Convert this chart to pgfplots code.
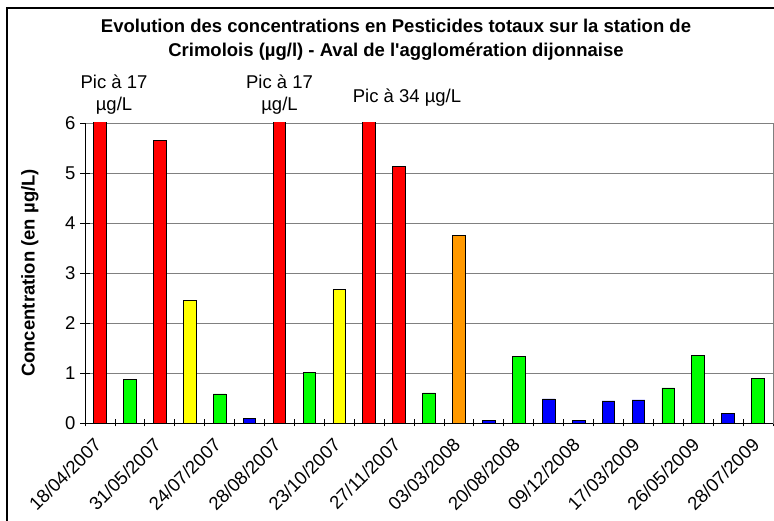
\documentclass[border=0pt]{standalone}
\usepackage{pgfplots}
\pgfplotsset{compat=1.18}
\usepackage{pgfplotstable}
\usepackage{fontspec}
\setmainfont{Liberation Sans}
\definecolor{xred}{RGB}{255,0,0}
\definecolor{xgreen}{RGB}{0,255,0}
\definecolor{xyellow}{RGB}{255,255,0}
\definecolor{xorange}{RGB}{255,153,0}
\definecolor{xblue}{RGB}{0,0,255}
\definecolor{xgrid}{RGB}{128,128,128}
\pgfplotstableread{
x y
1 17
3 5.65
7 17
10 34
11 5.13
}\redtab
\pgfplotstableread{
x y
2 0.87
5 0.58
8 1.01
12 0.60
15 1.33
20 0.70
21 1.35
23 0.89
}\greentab
\pgfplotstableread{
x y
4 2.45
9 2.67
}\yellowtab
\pgfplotstableread{
x y
13 3.75
}\orangetab
\pgfplotstableread{
x y
6 0.09
14 0.05
16 0.48
17 0.05
18 0.44
19 0.46
22 0.19
}\bluetab
\newcommand\fs{\fontsize{18.5bp}{22bp}\selectfont}
\begin{document}
\begin{tikzpicture}[x=1bp,y=1bp]
\useasboundingbox (0,0) rectangle (774,521);
\draw[line width=2bp] (7,0) -- (7,513) -- (774,513);
\node[anchor=base,font=\fs\bfseries,inner sep=0pt] at (396,488)
  {Evolution des concentrations en Pesticides totaux sur la station de};
\node[anchor=base,font=\fs\bfseries,inner sep=0pt] at (396,464)
  {Crimolois (µg/l) - Aval de l\textquotesingle agglomération dijonnaise};
\node[anchor=base,font=\fs,inner sep=0pt] at (114,432) {Pic à 17};
\node[anchor=base,font=\fs,inner sep=0pt] at (114,410) {µg/L};
\node[anchor=base,font=\fs,inner sep=0pt] at (279.5,432) {Pic à 17};
\node[anchor=base,font=\fs,inner sep=0pt] at (279.5,410) {µg/L};
\node[anchor=base,font=\fs,inner sep=0pt] at (407,418) {Pic à 34 µg/L};
\begin{axis}[
  at={(85bp,98bp)}, anchor=south west,
  scale only axis, width=688bp, height=300bp,
  xmin=0.5, xmax=23.5, ymin=0, ymax=6,
  clip mode=individual,
  axis line style={draw=xgrid, line width=0.8bp},
  xtick={1,3,...,23},
  xticklabels={18/04/2007,31/05/2007,24/07/2007,28/08/2007,23/10/2007,27/11/2007,03/03/2008,20/08/2008,09/12/2008,17/03/2009,26/05/2009,28/07/2009},
  major x tick style={draw=none},
  minor xtick={0.5,1.5,...,23.5},
  minor x tick style={draw=black, line width=0.8bp},
  minor tick length=7bp,
  ytick={0,1,...,6},
  major tick length=10bp,
  ytick style={draw=black, line width=0.8bp},
  tick align=center,
  xtick pos=bottom, ytick pos=left,
  ymajorgrids, grid style={draw=xgrid, line width=0.8bp},
  /pgf/number format/assume math mode=true,
  yticklabel style={font=\fs, xshift=-1bp},
  xticklabel style={font=\fs, xshift=-7bp, yshift=-7bp, rotate=45, anchor=north east, inner sep=1bp},
  ylabel={\bfseries Concentration (en µg/L)},
  ylabel style={font=\fs, at={(axis description cs:0,0.5)}, anchor=center, yshift=55bp},
  every axis plot/.append style={ybar, bar width=12.7bp, draw=black, line width=0.8bp, bar shift=0pt},
]
\addplot[fill=xred] table[x=x,y=y] {\redtab};
\addplot[fill=xgreen] table[x=x,y=y] {\greentab};
\addplot[fill=xyellow] table[x=x,y=y] {\yellowtab};
\addplot[fill=xorange] table[x=x,y=y] {\orangetab};
\addplot[fill=xblue] table[x=x,y=y] {\bluetab};
\draw[black, line width=0.8bp] (rel axis cs:0,0) -- (rel axis cs:0,1);
\draw[black, line width=0.8bp] (rel axis cs:0,0) -- (rel axis cs:1,0);
\end{axis}
\end{tikzpicture}
\end{document}
